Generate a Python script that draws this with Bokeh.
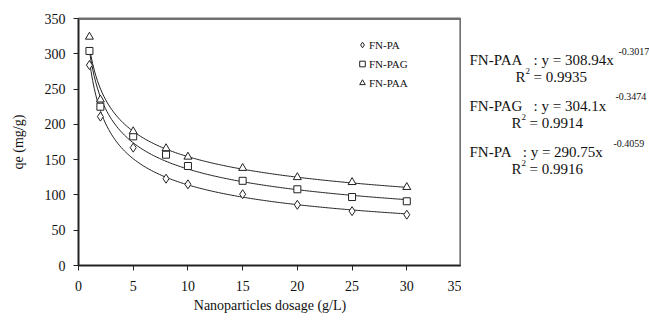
import numpy as np
from bokeh.plotting import figure
from bokeh.layouts import row
from bokeh.models import Range1d, FixedTicker, Label, Legend, LegendItem, Span
from bokeh.embed import file_html
from bokeh.resources import INLINE

# ---- data ----
dosage = [1, 2, 5, 8, 10, 15, 20, 25, 30]
qe_pa = [284, 211, 167, 123, 115, 101, 86, 77, 72]
qe_pag = [304, 225, 183, 157, 141, 120, 108, 97, 91]
qe_paa = [324, 235, 190, 166, 154, 138, 125, 118, 111]
series_names = ["FN-PA", "FN-PAG", "FN-PAA"]
fit_a = [290.75, 304.1, 308.94]
fit_b = [-0.4059, -0.3474, -0.3017]
fit_a_text = ["290.75", "304.1", "308.94"]
fit_b_text = ["-0.4059", "-0.3474", "-0.3017"]
r2_text = ["0.9916", "0.9914", "0.9935"]
x_ticks = [0, 5, 10, 15, 20, 25, 30, 35]
y_ticks = [0, 50, 100, 150, 200, 250, 300, 350]

FONT = "Liberation Serif"
NB = "\u00a0"

# frame geometry (pixels)
L, R, T, B = 78, 461, 18, 265
W, H = 649, 325
W1 = R

p = figure(width=W1, height=H, output_backend="svg", toolbar_location=None,
           x_range=Range1d(0, 35), y_range=Range1d(0, 350),
           min_border_left=L, min_border_right=0,
           min_border_top=T, min_border_bottom=H - B)
p.xgrid.visible = False
p.ygrid.visible = False
p.outline_line_color = "#707070"
p.outline_line_width = 2
p.background_fill_color = "white"
p.border_fill_color = "white"

for ax in (p.xaxis[0], p.yaxis[0]):
    ax.axis_line_color = "#222222"
    ax.axis_line_width = 1.5
    ax.major_tick_line_color = "#222222"
    ax.major_tick_line_width = 1
    ax.major_tick_out = 5
    ax.major_tick_in = 0
    ax.minor_tick_out = 0
    ax.minor_tick_in = 0
    ax.major_label_text_font = FONT
    ax.major_label_text_font_size = "14px"
    ax.major_label_text_color = "#111111"
    ax.axis_label_text_font = FONT
    ax.axis_label_text_font_size = "14px"
    ax.axis_label_text_font_style = "normal"
    ax.axis_label_text_color = "#111111"

p.xaxis.ticker = FixedTicker(ticks=x_ticks)
p.yaxis.ticker = FixedTicker(ticks=y_ticks)
p.xaxis.axis_label = "Nanoparticles dosage (g/L)"
p.yaxis.axis_label = "qe (mg/g)"
p.xaxis.major_label_standoff = 10
p.yaxis.major_label_standoff = 8
p.xaxis.axis_label_standoff = 4
p.yaxis.axis_label_standoff = 16

# grey top and right frame edges, drawn as spans just inside the frame
p.add_layout(Span(location=349.3, dimension="width", line_color="#707070", line_width=2))
p.add_layout(Span(location=34.93, dimension="height", line_color="#707070", line_width=2))

# trend lines
xs = np.linspace(1, 30, 200)
for a, b in zip(fit_a, fit_b):
    p.line(xs, a * xs ** b, line_color="#222222", line_width=1)

markers = ["diamond", "square", "triangle"]
sizes = [9, 7, 8]
series = [qe_pa, qe_pag, qe_paa]
items = []
for name, ys, m, s in zip(series_names, series, markers, sizes):
    r = p.scatter(dosage, ys, marker=m, size=s, fill_color="white",
                  line_color="#222222", line_width=1)
    items.append(LegendItem(label=name, renderers=[r]))

legend = Legend(items=items, location=(277, 175), orientation="vertical",
                border_line_color=None, background_fill_alpha=0,
                padding=0, margin=0, spacing=4,
                glyph_width=14, glyph_height=15, label_height=15,
                label_standoff=0,
                label_text_font=FONT, label_text_font_size="11px",
                label_text_color="#111111")
p.add_layout(legend)

# ---- equation panel on the right (pixel coordinates) ----
p2 = figure(width=W - W1, height=H, output_backend="svg", toolbar_location=None,
            x_range=Range1d(W1, W), y_range=Range1d(H, 0),
            min_border=0, min_border_left=0, min_border_right=0,
            min_border_top=0, min_border_bottom=0)
p2.xaxis.visible = False
p2.yaxis.visible = False
p2.xgrid.visible = False
p2.ygrid.visible = False
p2.outline_line_color = None
p2.background_fill_color = "white"
p2.border_fill_color = "white"

def lab(x, y, text, size):
    p2.add_layout(Label(x=x, y=y, text=text, text_font=FONT,
                        text_font_size=size, text_baseline="alphabetic",
                        text_align="left", text_color="#111111"))

base_main = [176, 115, 55]     # PA, PAG, PAA
base_r2 = [198, 137, 77]
sup_x = [613, 615, 618]
r_x = [511, 511, 515]
for i in range(3):
    bm = base_main[i]
    lab(469, bm, f"{series_names[i]}{NB}{NB}{NB}:{NB}y{NB}={NB}{fit_a_text[i]}x", "15px")
    lab(sup_x[i], bm - 12, fit_b_text[i], "10px")
    br = base_r2[i]
    lab(r_x[i], br, "R", "15px")
    lab(r_x[i] + 10, br - 8, "2", "9px")
    lab(r_x[i] + 18, br, f"={NB}{r2_text[i]}", "15px")

layout = row(p, p2, spacing=0)
open("out.html", "w").write(file_html(layout, INLINE))
